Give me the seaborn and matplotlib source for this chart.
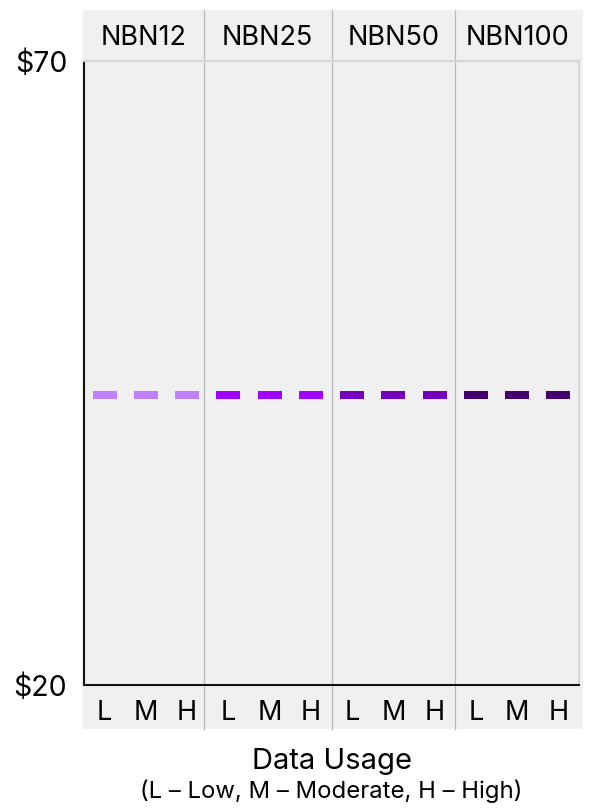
import matplotlib
matplotlib.use("Agg")
import matplotlib.pyplot as plt
import matplotlib.transforms as mtransforms
from matplotlib.patches import Rectangle
from matplotlib.path import Path
import pandas as pd
import seaborn as sns

# ---- data -------------------------------------------------------------
plans = ["NBN12", "NBN25", "NBN50", "NBN100"]
usage_levels = ["L", "M", "H"]
nbn12_price = [43.25, 43.25, 43.25]
nbn25_price = [43.25, 43.25, 43.25]
nbn50_price = [43.27, 43.27, 43.27]
nbn100_price = [43.25, 43.25, 43.25]
plan_colors = ["#bf80ff", "#a000ff", "#7500bc", "#45006f"]
y_ticks = [20, 70]
y_tick_labels = [r"\$20", r"\$70"]

rows = []
for plan, prices in zip(plans, [nbn12_price, nbn25_price, nbn50_price, nbn100_price]):
    for level, price in zip(usage_levels, prices):
        rows.append({"plan": plan, "usage": level, "slot": f"{plan} {level}", "price": price})
df = pd.DataFrame(rows)

# ---- style ------------------------------------------------------------
sns.set_theme(style="white")
plt.rcParams["font.family"] = ["Inter", "DejaVu Sans"]
plt.rcParams["text.color"] = "#000000"
plt.rcParams["xtick.color"] = "#000000"
plt.rcParams["ytick.color"] = "#000000"
plt.rcParams["xtick.labelcolor"] = "#000000"
plt.rcParams["ytick.labelcolor"] = "#000000"

W, H = 590, 808
BG = "#f0f0f0"
fig = plt.figure(figsize=(W / 100, H / 100), dpi=100)

# grey backdrop behind header strip, panels and usage strip
fig.patches.append(Rectangle((83 / W, (H - 729) / H), 500 / W, 719 / H,
                             transform=fig.transFigure, facecolor=BG,
                             edgecolor="none", zorder=-5))

ax_top, ax_bot, ax_left, ax_right = 61, 685, 84, 579
ax = fig.add_axes([ax_left / W, (H - ax_bot) / H,
                   (ax_right - ax_left) / W, (ax_bot - ax_top) / H])
ax.set_facecolor(BG)

# horizontal dash marker, three times wider than tall
dash = Path([(-1.5, -0.5), (1.5, -0.5), (1.5, 0.5), (-1.5, 0.5), (-1.5, -0.5)],
            [Path.MOVETO, Path.LINETO, Path.LINETO, Path.LINETO, Path.CLOSEPOLY])

sns.scatterplot(data=df, x="slot", y="price", hue="plan", hue_order=plans,
                palette=plan_colors, marker=dash, s=299, linewidth=0,
                legend=False, ax=ax, zorder=3)

ax.set_xlim(-0.5, 11.5)
ax.set_ylim(20, 70)

# panel dividers run through header and usage strips
bounds = [-0.5, 2.4, 5.5, 8.5, 11.5]
ph = ax_bot - ax_top
for b in bounds[1:-1]:
    ax.axvline(b, ymin=-(729 - ax_bot) / ph, ymax=1 + (ax_top - 10) / ph,
               color="#b9b9b9", lw=0.9, clip_on=False, zorder=1)

# plan headers
trans = mtransforms.blended_transform_factory(ax.transData, ax.transAxes)
for plan, lo, hi in zip(plans, bounds[:-1], bounds[1:]):
    ax.text((lo + hi) / 2, (ax_bot - 45) / ph, plan, transform=trans,
            ha="center", va="baseline", fontsize=19.5)

# axes frame
for side in ["left", "bottom"]:
    ax.spines[side].set_color("#111111")
    ax.spines[side].set_linewidth(1.5)
for side in ["top", "right"]:
    ax.spines[side].set_color("#d6d6d6")
    ax.spines[side].set_linewidth(1.5)

ax.set_xticks(range(12))
ax.set_xticklabels(usage_levels * len(plans), fontsize=19.5)
ax.set_yticks(y_ticks)
ax.set_yticklabels(y_tick_labels, fontsize=20.5)
ax.tick_params(axis="x", length=0, pad=11)
ax.tick_params(axis="y", length=0, pad=12)
ax.set_xlabel("")
ax.set_ylabel("")

cx = (ax_left + ax_right) / 2 / W
fig.text(cx, (H - 769) / H, "Data Usage", ha="center", va="baseline", fontsize=21)
fig.text(cx, (H - 798) / H, "(L \u2013 Low, M \u2013 Moderate, H \u2013 High)",
         ha="center", va="baseline", fontsize=17.2)

fig.savefig("out.png", dpi=100, facecolor="white")
